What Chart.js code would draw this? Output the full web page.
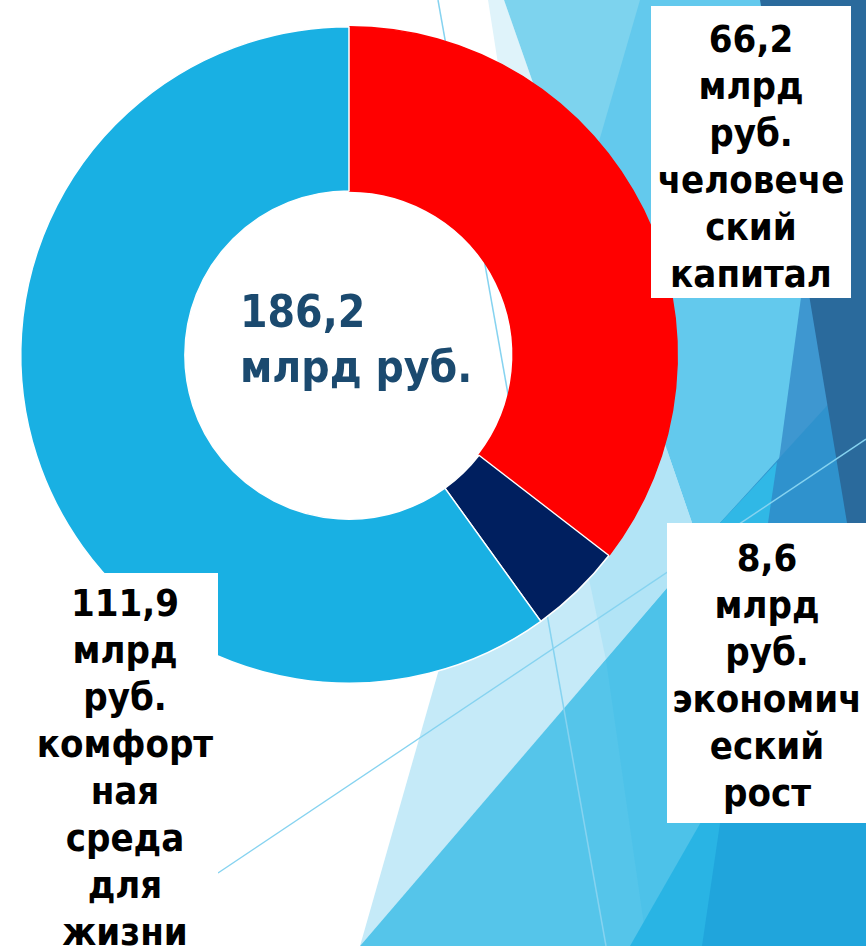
<!DOCTYPE html>
<html lang="ru">
<head>
<meta charset="utf-8">
<script src="https://cdn.jsdelivr.net/npm/chart.js@4.4.1/dist/chart.umd.min.js"></script>
<style>
  html, body { margin: 0; padding: 0; background: #ffffff; }
  #wrap { position: relative; width: 866px; height: 946px; overflow: hidden; }
  #chart { position: absolute; left: 0; top: 0; }
  .box {
    position: absolute; background: #ffffff; color: #000000;
    font-family: "DejaVu Sans Condensed", "DejaVu Sans", sans-serif;
    font-weight: bold; font-size: 38px; line-height: 47px; text-align: center;
    box-sizing: border-box;
  }
  #center {
    position: absolute; left: 240px; top: 284px;
    font-family: "DejaVu Sans Condensed", "DejaVu Sans", sans-serif;
    font-weight: bold; font-size: 44px; line-height: 55px; color: #1b4a6f;
    white-space: nowrap;
  }
</style>
</head>
<body>
<div id="wrap">
  <canvas id="chart" width="866" height="946"></canvas>
  <div id="center"></div>
  <div class="box" id="box0" style="left:651px; top:6px; width:200px; height:292px; padding-top:10px;"></div>
  <div class="box" id="box1" style="left:667px; top:523px; width:210px; height:300px; padding-top:12px; padding-right:10px;"></div>
  <div class="box" id="box2" style="left:20px; top:573px; width:198px; height:400px; padding-top:7px; padding-left:12px;"></div>
</div>
<script>
// ---- data ----
const categories = ['человеческий капитал', 'экономический рост', 'комфортная среда для жизни'];
const values = [66.2, 8.6, 111.9];
const unitLines = ['млрд', 'руб.'];
const categoryLines = [
  ['человече', 'ский', 'капитал'],
  ['экономич', 'еский', 'рост'],
  ['комфорт', 'ная', 'среда', 'для', 'жизни']
];
const totalText = '186,2';
const totalUnit = 'млрд руб.';
const colors = ['#ff0000', '#001f5f', '#19b0e3'];
const borderColors = ['#ff0000', '#ffffff', '#ffffff'];

// ---- decorative background (slide template) ----
const bgShapes = [
  { c: '#63c9ed', p: [[590,0],[866,0],[866,946],[590,946]] },
  { c: '#dff3fa', p: [[488,0],[504,0],[560,160],[513,160]] },
  { c: '#7dd3ee', p: [[504,0],[640,0],[582,200],[574,200]] },
  { c: '#3e97d0', p: [[805,268],[866,268],[866,600],[760,600]] },
  { c: '#2f92cd', p: [[866,363],[720,523],[760,600],[866,600]] },
  { c: '#30b8e6', p: [[720,523],[777,462],[768,523]] },
  { c: '#2a6a9c', p: [[760,0],[866,0],[866,637]] },
  { c: '#c5eaf8', p: [[453,620],[600,420],[660,430],[667,450],[701,549],[360,946]] },
  { c: '#b2e4f6', p: [[585,560],[640,430],[667,450],[701,549],[606,660]] },
  { c: '#55c5ea', p: [[360,946],[723,523],[866,523],[866,946]] },
  { c: '#4dc2e9', p: [[606,660],[647,946],[866,946],[866,523],[723,523]] },
  { c: '#29b4e4', p: [[630,946],[872,523],[866,946]] },
  { c: '#20a5dc', p: [[702,946],[764,523],[866,523],[866,946]] }
];
const bgLines = [
  [[438,0],[606,946]],
  [[218,873],[866,439]]
];

const backgroundPlugin = {
  id: 'slideBackground',
  beforeDraw(chart) {
    const ctx = chart.ctx;
    ctx.save();
    ctx.fillStyle = '#ffffff';
    ctx.fillRect(0, 0, chart.width, chart.height);
    for (const s of bgShapes) {
      ctx.beginPath();
      s.p.forEach((pt, i) => i ? ctx.lineTo(pt[0], pt[1]) : ctx.moveTo(pt[0], pt[1]));
      ctx.closePath();
      ctx.fillStyle = s.c;
      ctx.fill();
    }
    ctx.strokeStyle = '#86d3f0';
    ctx.lineWidth = 1.5;
    for (const l of bgLines) {
      ctx.beginPath();
      ctx.moveTo(l[0][0], l[0][1]);
      ctx.lineTo(l[1][0], l[1][1]);
      ctx.stroke();
    }
    ctx.restore();
  }
};

new Chart(document.getElementById('chart'), {
  type: 'doughnut',
  data: {
    labels: categories,
    datasets: [{
      data: values,
      backgroundColor: colors,
      borderColor: borderColors,
      borderWidth: 1.5
    }]
  },
  options: {
    responsive: false,
    animation: false,
    devicePixelRatio: 1,
    cutout: '50%',
    layout: { padding: { left: 20, top: 26, right: 188, bottom: 262 } },
    plugins: { legend: { display: false }, tooltip: { enabled: false } }
  },
  plugins: [backgroundPlugin]
});

// ---- text labels ----
const fmt = v => v.toFixed(1).replace('.', ',');
values.forEach((v, i) => {
  const lines = [fmt(v)].concat(unitLines, categoryLines[i]);
  document.getElementById('box' + i).innerHTML = lines.map(s => '<div>' + s + '</div>').join('');
});
document.getElementById('center').innerHTML = '<div>' + totalText + '</div><div>' + totalUnit + '</div>';
</script>
</body>
</html>
